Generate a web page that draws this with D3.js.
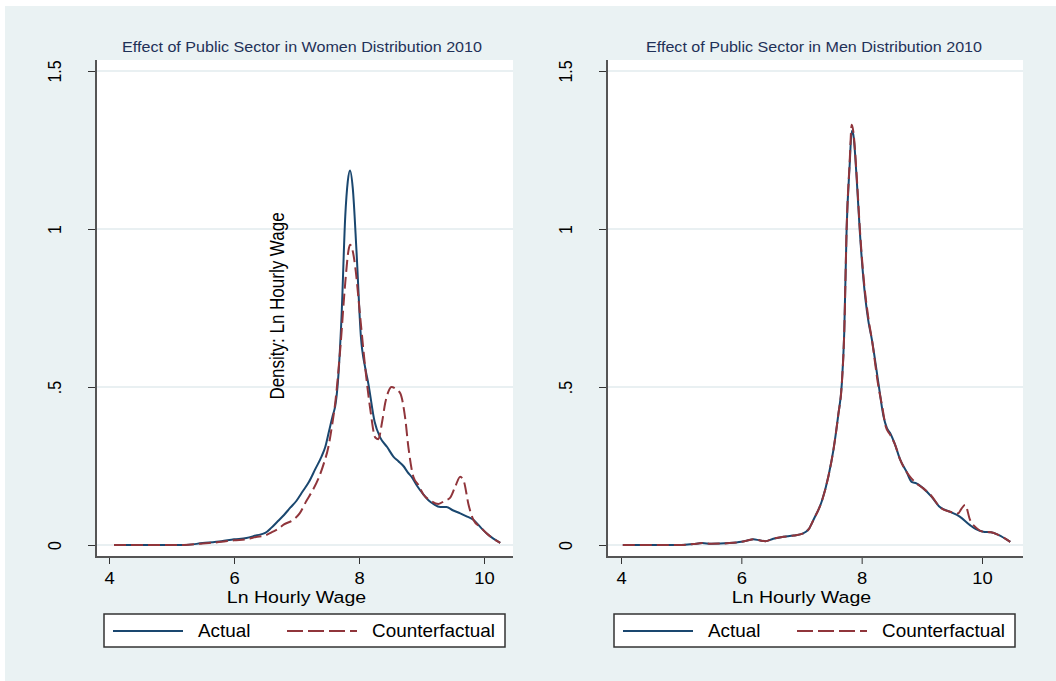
<!DOCTYPE html>
<html>
<head>
<meta charset="utf-8">
<script src="https://cdn.jsdelivr.net/npm/d3@7/dist/d3.min.js"></script>
<style>
  body { margin: 0; background: #fff; }
  text { font-family: "Liberation Sans", Arial, sans-serif; }
</style>
</head>
<body>
<svg id="chart" width="1056" height="681"></svg>
<script>
// tick labels and names
var wageTicks = [4, 6, 8, 10];
var densityTicks = [0, 0.5, 1, 1.5];
var densityTickLabels = ['0', '.5', '1', '1.5'];
var seriesNames = ['Actual', 'Counterfactual'];
var panelTitles = ['Effect of Public Sector in Women Distribution 2010',
                   'Effect of Public Sector in Men Distribution 2010'];

// women, actual
var womenActualWage = [4.08, 4.5, 5.0, 5.2, 5.5, 5.8, 6.0, 6.2, 6.35, 6.5, 6.6, 6.7, 6.8, 6.9, 7.0,
  7.1, 7.2, 7.3, 7.4, 7.46, 7.52, 7.58, 7.62, 7.66, 7.72, 7.78, 7.82, 7.856, 7.9, 7.96, 8.03, 8.1,
  8.15, 8.25, 8.34, 8.45, 8.55, 8.63, 8.71, 8.78, 8.84, 8.92, 9.03, 9.12, 9.19, 9.3, 9.4, 9.5,
  9.62, 9.73, 9.83, 9.95, 10.04, 10.15, 10.26];
var womenActualDensity = [0, 0, 0, 0, 0.006, 0.012, 0.018, 0.022, 0.03, 0.038, 0.055, 0.075, 0.095,
  0.118, 0.14, 0.17, 0.2, 0.24, 0.28, 0.31, 0.36, 0.41, 0.44, 0.51, 0.72, 1.04, 1.15, 1.185, 1.13,
  0.93, 0.66, 0.56, 0.51, 0.39, 0.34, 0.31, 0.28, 0.265, 0.25, 0.23, 0.216, 0.19, 0.16, 0.14, 0.13,
  0.12, 0.12, 0.11, 0.10, 0.09, 0.08, 0.055, 0.037, 0.02, 0.007];

// women, counterfactual
var womenCfWage = [4.08, 4.5, 5.0, 5.2, 5.5, 5.8, 6.0, 6.2, 6.35, 6.5, 6.6, 6.7, 6.8, 6.95, 7.05,
  7.16, 7.25, 7.35, 7.44, 7.51, 7.57, 7.62, 7.7, 7.78, 7.83, 7.856, 7.9, 7.94, 8.02, 8.1, 8.18, 8.26,
  8.31, 8.37, 8.42, 8.47, 8.52, 8.58, 8.66, 8.74, 8.79, 8.87, 8.95, 9.03, 9.15, 9.27, 9.37, 9.46,
  9.54, 9.62, 9.68, 9.75, 9.83, 9.95, 10.04, 10.15, 10.26];
var womenCfDensity = [0, 0, 0, 0, 0.005, 0.01, 0.015, 0.018, 0.025, 0.03, 0.04, 0.05, 0.065, 0.08,
  0.1, 0.14, 0.17, 0.21, 0.26, 0.31, 0.38, 0.45, 0.62, 0.83, 0.93, 0.95, 0.93, 0.88, 0.72, 0.56, 0.43,
  0.34, 0.335, 0.39, 0.45, 0.485, 0.5, 0.495, 0.48, 0.4, 0.31, 0.216, 0.19, 0.16, 0.14, 0.13, 0.14,
  0.15, 0.185, 0.216, 0.2, 0.13, 0.08, 0.055, 0.037, 0.02, 0.007];

// men, actual
var menActualWage = [4.03, 4.5, 5.0, 5.2, 5.35, 5.5, 5.8, 6.0, 6.1, 6.2, 6.3, 6.4, 6.53, 6.7, 6.87,
  7.03, 7.12, 7.2, 7.34, 7.45, 7.53, 7.61, 7.67, 7.71, 7.75, 7.8, 7.835, 7.86, 7.92, 7.97, 8.03, 8.11,
  8.17, 8.28, 8.36, 8.42, 8.47, 8.55, 8.64, 8.75, 8.83, 8.91, 9.02, 9.16, 9.3, 9.47, 9.63, 9.8, 9.9,
  10.02, 10.15, 10.27, 10.47];
var menActualDensity = [0, 0, 0, 0.003, 0.006, 0.004, 0.006, 0.01, 0.014, 0.018, 0.015, 0.012, 0.02,
  0.026, 0.03, 0.037, 0.05, 0.08, 0.14, 0.22, 0.3, 0.41, 0.51, 0.67, 1.0, 1.2, 1.31, 1.3, 1.15, 0.99,
  0.84, 0.71, 0.65, 0.51, 0.41, 0.37, 0.355, 0.32, 0.27, 0.23, 0.2, 0.195, 0.18, 0.153, 0.12, 0.105,
  0.09, 0.063, 0.05, 0.042, 0.04, 0.032, 0.01];

// men, counterfactual
var menCfWage = [4.03, 4.5, 5.0, 5.2, 5.35, 5.5, 5.8, 6.0, 6.1, 6.2, 6.3, 6.4, 6.53, 6.7, 6.87,
  7.03, 7.12, 7.2, 7.34, 7.45, 7.53, 7.61, 7.67, 7.71, 7.75, 7.8, 7.835, 7.86, 7.92, 7.97, 8.03, 8.11,
  8.17, 8.28, 8.34, 8.4, 8.47, 8.55, 8.64, 8.75, 8.83, 8.91, 9.02, 9.16, 9.3, 9.47, 9.6, 9.66, 9.72,
  9.8, 9.9, 10.02, 10.15, 10.27, 10.47];
var menCfDensity = [0, 0, 0, 0.003, 0.006, 0.004, 0.006, 0.01, 0.014, 0.018, 0.015, 0.012, 0.02,
  0.026, 0.03, 0.037, 0.05, 0.08, 0.14, 0.22, 0.3, 0.41, 0.51, 0.67, 1.0, 1.21, 1.33, 1.31, 1.16, 1.0,
  0.85, 0.72, 0.65, 0.5, 0.44, 0.375, 0.35, 0.32, 0.27, 0.23, 0.21, 0.195, 0.18, 0.155, 0.12, 0.105,
  0.1, 0.115, 0.127, 0.08, 0.055, 0.042, 0.04, 0.032, 0.01];

var navy = '#1a476f';
var maroon = '#90353b';
var font = '"Liberation Sans", Arial, sans-serif';
var stretch = 1.15;   // the source render is a bit wide

var svg = d3.select('#chart');

svg.append('rect').attr('x', 5).attr('y', 6).attr('width', 1051).attr('height', 675)
  .attr('fill', '#eaf2f3');

var drawPanel = function(cfg, actualX, actualY, cfX, cfY, title) {
  var x = d3.scaleLinear().domain([4, 10]).range(cfg.xRange);
  var y = d3.scaleLinear().domain([0, 1.5]).range([545, 71]);
  var g = svg.append('g');

  g.append('rect').attr('x', cfg.left).attr('y', 60)
    .attr('width', cfg.right - cfg.left).attr('height', 497).attr('fill', '#fff');

  // grid
  g.selectAll('.grid').data(densityTicks).enter().append('line')
    .attr('x1', cfg.left).attr('x2', cfg.right)
    .attr('y1', function(d) { return y(d); }).attr('y2', function(d) { return y(d); })
    .attr('stroke', '#e2ebee').attr('stroke-width', 1.5);

  // curves
  var line = d3.line()
    .x(function(d) { return x(d[0]); })
    .y(function(d) { return y(d[1]); })
    .curve(d3.curveMonotoneX);
  g.append('path').datum(d3.zip(actualX, actualY)).attr('d', line)
    .attr('fill', 'none').attr('stroke', navy).attr('stroke-width', 2);
  g.append('path').datum(d3.zip(cfX, cfY)).attr('d', line)
    .attr('fill', 'none').attr('stroke', maroon).attr('stroke-width', 2)
    .attr('stroke-dasharray', '12,5');

  // axes
  var xAxis = d3.axisBottom(x).tickValues(wageTicks).tickSize(7)
    .tickFormat(d3.format('d'));
  var gx = g.append('g').attr('transform', 'translate(0,557)').call(xAxis);
  gx.select('.domain').remove();
  gx.append('line').attr('x1', cfg.left).attr('x2', cfg.right).attr('y1', 0).attr('y2', 0)
    .attr('stroke', '#555').attr('stroke-width', 2);
  gx.selectAll('.tick line').attr('stroke', '#333');
  gx.selectAll('.tick text').attr('fill', '#000').style('font-size', '16px')
    .style('font-family', font).attr('y', 27).attr('dy', null)
    .attr('transform', 'scale(' + stretch + ',1)');

  var yAxis = d3.axisLeft(y).tickValues(densityTicks).tickSize(8)
    .tickFormat(function(d, i) { return densityTickLabels[i]; });
  var gy = g.append('g').attr('transform', 'translate(' + cfg.left + ',0)').call(yAxis);
  gy.select('.domain').remove();
  gy.append('line').attr('x1', 0).attr('x2', 0).attr('y1', 60).attr('y2', 558)
    .attr('stroke', '#555').attr('stroke-width', 2);
  gy.selectAll('.tick line').attr('stroke', '#333');
  gy.selectAll('.tick text').attr('fill', '#000').style('font-size', '16px')
    .style('font-family', font)
    .attr('x', null).attr('dy', null)
    .attr('text-anchor', 'middle')
    .attr('transform', 'translate(' + (cfg.yLabelX - cfg.left) + ',0) scale(' + stretch +
      ',1) rotate(-90)');

  var mid = (cfg.xRange[0] + cfg.xRange[1]) / 2;
  g.append('text').attr('transform', 'translate(' + mid + ',603) scale(' + stretch + ',1)')
    .attr('text-anchor', 'middle').style('font-size', '17px').text('Ln Hourly Wage');

  g.append('text').attr('transform', 'translate(' + cfg.titleX + ',52) scale(' + stretch + ',1)')
    .attr('text-anchor', 'middle').attr('fill', '#1f3158').style('font-size', '14px')
    .text(title);

  // legend
  var lg = g.append('g').attr('transform', 'translate(' + cfg.legendX + ',614)');
  lg.append('rect').attr('width', 401).attr('height', 33)
    .attr('fill', '#fff').attr('stroke', '#333').attr('stroke-width', 1.5);
  lg.append('line').attr('x1', 9).attr('x2', 79).attr('y1', 17).attr('y2', 17)
    .attr('stroke', navy).attr('stroke-width', 2);
  lg.append('line').attr('x1', 183).attr('x2', 253).attr('y1', 17).attr('y2', 17)
    .attr('stroke', maroon).attr('stroke-width', 2).attr('stroke-dasharray', '16,5');
  lg.append('text').attr('transform', 'translate(94,23) scale(1.08,1)')
    .style('font-size', '17.5px').text(seriesNames[0]);
  lg.append('text').attr('transform', 'translate(268,23) scale(1.08,1)')
    .style('font-size', '17.5px').text(seriesNames[1]);

  return g;
};

var women = drawPanel({ left: 96, right: 513, xRange: [109, 484], yLabelX: 61, titleX: 302,
  legendX: 104 }, womenActualWage, womenActualDensity, womenCfWage, womenCfDensity, panelTitles[0]);
drawPanel({ left: 607, right: 1023, xRange: [621, 982], yLabelX: 572, titleX: 814,
  legendX: 614 }, menActualWage, menActualDensity, menCfWage, menCfDensity, panelTitles[1]);

// y title sits inside the women plot
women.append('text')
  .attr('transform', 'translate(284,306) scale(' + stretch + ',1) rotate(-90)')
  .attr('text-anchor', 'middle').style('font-size', '17px').text('Density: Ln Hourly Wage');
</script>
</body>
</html>
